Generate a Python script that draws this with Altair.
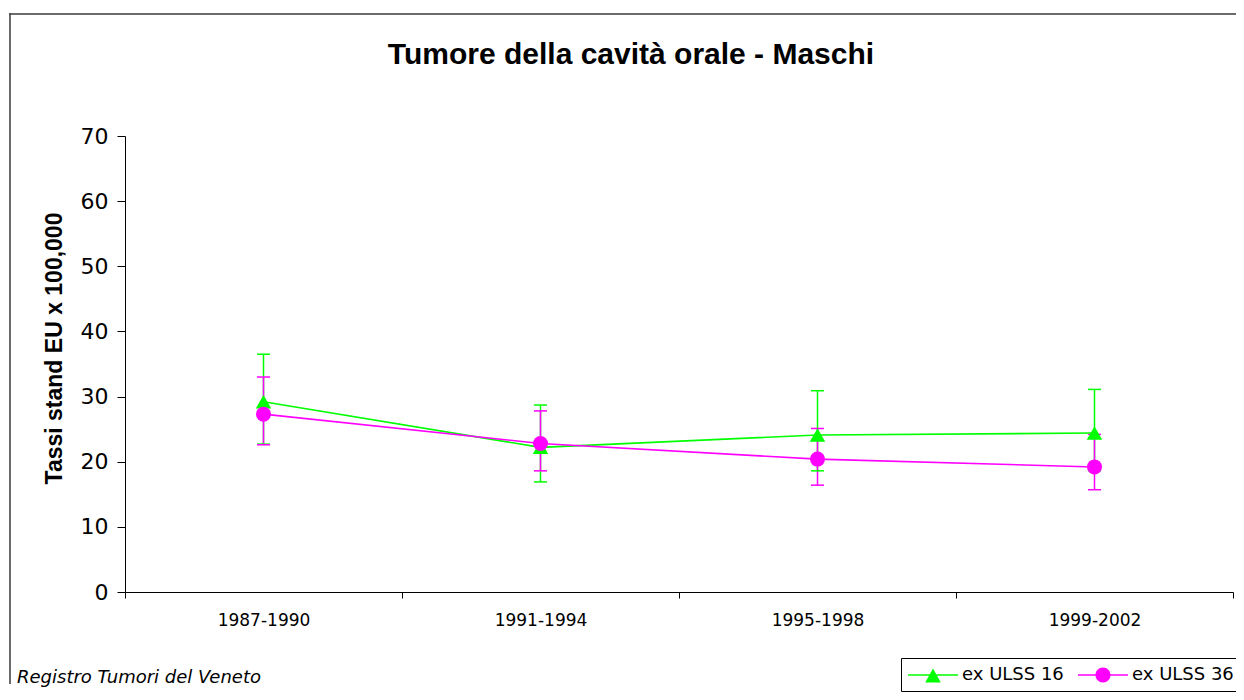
import altair as alt
import pandas as pd

# ---- data ----
periods = ["1987-1990", "1991-1994", "1995-1998", "1999-2002"]
series_names = ["ex ULSS 16", "ex ULSS 36"]

ulss16_rate = [29.2, 22.2, 24.1, 24.4]
ulss16_low = [22.7, 16.9, 18.6, 18.6]
ulss16_high = [36.5, 28.7, 30.9, 31.1]

ulss36_rate = [27.3, 22.8, 20.4, 19.2]
ulss36_low = [22.6, 18.6, 16.4, 15.7]
ulss36_high = [33.0, 27.8, 25.1, 24.2]

chart_title = "Tumore della cavità orale - Maschi"
y_title = "Tassi stand EU x 100,000"
source_note = "Registro Tumori del Veneto"
y_ticks = [0, 10, 20, 30, 40, 50, 60, 70]

series_colors = ["#00FF00", "#FF00FF"]

rows = []
for name, rate, lo, hi in [
    (series_names[0], ulss16_rate, ulss16_low, ulss16_high),
    (series_names[1], ulss36_rate, ulss36_low, ulss36_high),
]:
    for p, r, l, h in zip(periods, rate, lo, hi):
        rows.append({"period": p, "series": name, "rate": r, "low": l, "high": h})
df = pd.DataFrame(rows)

REG = "DejaVu Sans"
BOLD = "Liberation Sans"

x_enc = alt.X(
    "period:N",
    sort=periods,
    bandPosition=0.5,
    scale=alt.Scale(domain=periods, paddingInner=0, paddingOuter=0),
    axis=alt.Axis(
        title=None,
        labelAngle=0,
        tickBand="extent",
        tickSize=6,
        tickColor="black",
        domainColor="black",
        labelFont=REG,
        labelFontSize=17,
        labelColor="black",
        labelPadding=14,
        grid=False,
    ),
)
y_scale = alt.Scale(domain=[0, 70], nice=False, zero=True)
y_axis = alt.Axis(
    values=y_ticks,
    title=y_title,
    titleFont=BOLD,
    titleFontSize=23,
    titleFontWeight="bold",
    titleColor="black",
    titleAngle=270,
    titleAlign="center",
    titleBaseline="alphabetic",
    titleX=-64,
    titleY=212,
    tickSize=8,
    tickColor="black",
    domainColor="black",
    labelFont=REG,
    labelFontSize=22,
    labelColor="black",
    labelPadding=9,
    grid=False,
)

legend_def = alt.Legend(
    title=None,
    orient="none",
    legendX=776,
    legendY=522,
    direction="horizontal",
    columns=2,
    columnPadding=14,
    labelOffset=34,
    padding=7,
    symbolSize=400,
    symbolStrokeWidth=0,
    strokeColor="black",
    fillColor="white",
    labelFont=REG,
    labelFontSize=18,
    labelColor="black",
)

color_enc = alt.Color(
    "series:N",
    scale=alt.Scale(domain=series_names, range=series_colors),
    legend=legend_def,
)

base = alt.Chart(df)

err = base.mark_rule(strokeWidth=1.5).encode(
    x=x_enc,
    y=alt.Y("low:Q", scale=y_scale, axis=y_axis),
    y2="high:Q",
    color=color_enc,
)
cap_lo = base.mark_tick(size=13, thickness=1.5, opacity=1).encode(
    x=x_enc, y=alt.Y("low:Q", scale=y_scale), color=color_enc
)
cap_hi = base.mark_tick(size=13, thickness=1.5, opacity=1).encode(
    x=x_enc, y=alt.Y("high:Q", scale=y_scale), color=color_enc
)
lines = base.mark_line(strokeWidth=1.6).encode(
    x=x_enc, y=alt.Y("rate:Q", scale=y_scale), color=color_enc, detail="series:N"
)
pts16 = base.transform_filter(alt.datum.series == series_names[0]).mark_point(
    shape="triangle-up", filled=True, size=240, opacity=1
).encode(x=x_enc, y=alt.Y("rate:Q", scale=y_scale), color=color_enc)
pts36 = base.transform_filter(alt.datum.series == series_names[1]).mark_point(
    shape="circle", filled=True, size=225, opacity=1
).encode(x=x_enc, y=alt.Y("rate:Q", scale=y_scale), color=color_enc)

# legend symbols: a short line with the marker on it (units of 10 px)
tri_path = ("M-1,-0.08L4,-0.08L4,0.08L-1,0.08Z "
            "M1.5,-0.66L2.28,0.74L0.72,0.74Z")
circ_path = ("M-1,-0.08L4,-0.08L4,0.08L-1,0.08Z "
             "M0.75,0A0.75,0.75,0,1,1,2.25,0A0.75,0.75,0,1,1,0.75,0Z")

legend_layer = base.transform_filter("false").mark_point(
    filled=True, size=400, opacity=1
).encode(
    x=x_enc,
    y=alt.Y("rate:Q", scale=y_scale),
    color=color_enc,
    shape=alt.Shape(
        "series:N",
        scale=alt.Scale(domain=series_names, range=[tri_path, circ_path]),
        legend=legend_def,
    ),
)

# outer chart-area border (top and left edges; the rest lies outside the picture)
one = pd.DataFrame({"k": [0]})
frame_top = alt.Chart(one).mark_rule(color="#3a3a3a", strokeWidth=1.5).encode(
    x=alt.value(-115.75), x2=alt.value(1112), y=alt.value(-122)
)
frame_left = alt.Chart(one).mark_rule(color="#3a3a3a", strokeWidth=1.5).encode(
    x=alt.value(-115), y=alt.value(-122.75), y2=alt.value(548)
)

title_layer = alt.Chart(pd.DataFrame({"t": [chart_title]})).mark_text(
    font=BOLD, fontSize=30, fontWeight="bold", align="center",
    baseline="alphabetic", color="black"
).encode(text="t:N", x=alt.value(506), y=alt.value(-72.5))

source_layer = alt.Chart(pd.DataFrame({"t": [source_note]})).mark_text(
    font=REG, fontSize=18, fontStyle="italic", align="left",
    baseline="alphabetic", color="black"
).encode(text="t:N", x=alt.value(-108), y=alt.value(547))

chart = alt.layer(
    frame_top, frame_left, err, cap_lo, cap_hi, lines, pts16, pts36,
    legend_layer, title_layer, source_layer
).properties(
    width=1108,
    height=456,
    autosize=alt.AutoSizeParams(type="none"),
    padding={"left": 117, "top": 128, "right": 3, "bottom": 100},
    background="white",
).configure_view(stroke=None)

chart.save("out.html", embed_options={"renderer": "svg", "actions": False})
